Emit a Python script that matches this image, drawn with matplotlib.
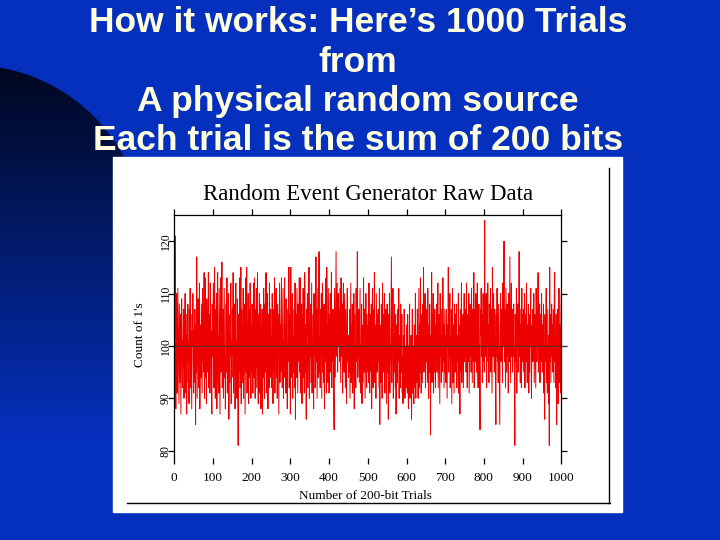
import numpy as np
import matplotlib
matplotlib.use("Agg")
import matplotlib.pyplot as plt
from matplotlib.patches import Rectangle, Circle

# slide text
slide_lines = ["How it works: Here\u2019s 1000 Trials", "from",
               "A physical random source", "Each trial is the sum of 200 bits"]
chart_title = "Random Event Generator Raw Data"
x_label = "Number of 200-bit Trials"
y_label = "Count of 1's"
x_ticks = [0, 100, 200, 300, 400, 500, 600, 700, 800, 900, 1000]
y_ticks = [80, 90, 100, 110, 120]

# count of 1's in each 200-bit trial (25 per row)
counts = [
    104,121,93,88,106,110,91,97,111,103,94,89,108,100,93,106,87,98,109,104,92,101,96,107,90,
    95,104,110,91,98,106,87,102,97,108,93,101,89,107,98,111,92,103,95,88,106,100,110,97,91,
    103,93,107,98,85,104,95,117,90,101,109,97,92,106,112,88,98,104,94,108,100,91,111,97,103,
    95,114,90,104,113,94,102,89,109,98,107,95,114,92,101,106,91,112,97,103,93,87,108,98,105,
    112,92,101,115,95,90,107,97,110,88,104,114,93,102,91,111,98,87,106,113,95,100,116,92,97,
    107,90,102,111,94,98,88,108,101,95,113,91,104,97,110,86,102,93,106,98,112,89,101,94,107,
    98,114,91,102,95,108,88,104,112,93,101,90,109,98,81,106,95,102,113,92,100,115,89,107,97,
    104,93,111,90,101,108,96,87,106,113,95,115,91,102,98,110,89,101,107,94,112,98,90,104,95,
    108,98,91,104,112,94,113,101,90,107,96,111,92,102,114,95,89,106,98,110,91,101,108,88,104,
    97,107,87,102,94,111,98,90,108,100,95,114,91,104,98,110,88,106,97,92,112,101,94,107,98,
    102,92,110,97,89,107,100,95,113,91,104,98,111,94,102,90,108,98,106,87,101,112,93,104,95,
    107,113,97,92,102,111,90,101,94,113,98,104,91,109,100,95,88,107,102,97,115,92,106,98,87,
    115,94,104,98,110,90,102,95,107,100,92,112,86,106,98,94,111,102,91,108,97,101,113,95,113,
    91,102,97,108,89,106,98,111,94,101,91,114,95,104,98,86,107,102,110,92,100,97,115,90,104,
    98,108,93,102,112,91,101,95,106,88,110,98,104,92,100,117,97,107,90,102,111,94,104,118,95,
    102,92,107,98,110,90,101,112,95,104,93,108,88,106,100,97,113,91,115,98,104,93,111,100,91,
    106,98,110,95,102,114,92,104,97,107,100,90,84,111,102,94,108,118,98,106,112,95,104,110,100,
    107,97,111,102,93,113,104,98,108,91,106,112,100,95,110,102,92,107,98,89,104,111,97,101,94,
    102,95,107,90,101,112,93,104,98,108,91,102,95,110,88,106,98,100,92,111,97,104,118,94,102,
    98,107,93,102,111,91,100,97,108,89,104,98,93,113,102,95,107,90,101,110,97,92,106,100,95,
    104,93,112,98,91,106,100,95,108,88,102,111,97,92,107,100,114,93,104,98,90,110,102,95,106,
    97,107,100,92,111,85,104,98,93,108,102,90,112,100,95,106,98,110,91,102,97,107,89,100,108,
    95,102,86,106,98,110,91,100,97,107,117,93,104,98,111,90,102,95,108,100,92,106,87,98,104,
    93,107,100,97,111,90,102,98,92,108,100,95,106,91,98,89,102,93,107,97,90,100,95,92,104,
    97,91,106,93,88,100,95,108,90,98,92,102,86,95,107,91,100,93,89,104,97,92,110,90,98,
    102,93,107,97,90,100,111,92,104,95,113,98,91,106,100,93,108,97,115,95,104,98,110,92,102,
    97,107,100,93,111,98,90,104,95,108,100,83,102,97,114,93,106,98,110,91,100,95,107,102,92,
    104,98,108,95,102,112,92,100,106,97,89,110,98,102,93,107,100,95,113,97,104,92,100,107,95,
    102,93,107,98,90,104,100,115,95,106,98,110,92,102,97,107,89,100,111,93,104,98,91,108,100,
    95,106,98,108,92,100,102,97,110,91,104,98,87,107,100,95,112,93,102,98,106,92,100,110,97,
    104,98,107,95,112,100,92,106,102,97,110,91,100,108,98,104,95,111,102,93,107,100,97,114,92,
    102,107,97,110,100,95,106,112,98,92,104,108,100,95,84,107,102,111,98,106,93,100,110,97,104,
    95,124,102,107,98,110,92,106,100,112,97,104,93,108,102,98,111,95,107,100,91,115,104,98,110,
    100,95,107,102,92,85,106,98,111,97,104,93,108,100,90,85,102,110,97,107,98,104,93,112,100,
    106,120,97,107,100,92,111,102,95,108,98,104,91,110,100,97,117,106,93,102,112,98,107,95,104,
    98,108,100,93,81,106,102,97,111,91,104,100,108,95,102,118,98,107,93,104,100,92,111,97,106,
    100,95,107,98,110,92,102,106,97,112,100,93,104,98,108,91,102,95,106,100,111,97,90,104,98,
    107,97,102,110,93,100,106,98,92,111,102,97,107,100,114,95,104,98,108,93,102,106,97,110,100,
    95,104,98,108,91,100,86,106,97,102,111,93,100,91,107,98,89,102,81,115,97,106,93,100,108,
    98,104,95,107,100,93,110,114,97,102,92,106,85,100,107,97,89,102,111,93,104,98,91,106,110,
]
trials = np.arange(1, len(counts) + 1)

blue = "#0530be"
serif = ["Liberation Serif", "DejaVu Serif"]

fig = plt.figure(figsize=(7.2, 5.4), dpi=100)

# slide background, pixel coordinates
bg = fig.add_axes([0, 0, 1, 1])
bg.set_xlim(0, 720)
bg.set_ylim(540, 0)
bg.axis("off")
bg.add_patch(Rectangle((0, 0), 720, 540, color=blue, zorder=0))
grad = np.linspace(0, 540, 540)
grad = np.clip((grad - 70) / 370, 0, 1)
dark = np.array([0.0, 0.03, 0.13])
light = np.array([0.02, 0.19, 0.745])
img = dark + (light - dark) * grad[:, None, None]
# dark rounded shape on the left: circle on top, straight strip below
for clip in [Circle((-30, 240), 175), Rectangle((0, 150), 115, 390)]:
    im = bg.imshow(img, extent=[0, 720, 540, 0], aspect="auto", zorder=1)
    clip.set_transform(bg.transData)
    im.set_clip_path(clip)

# white chart panel with its inner frame lines
bg.add_patch(Rectangle((113, 157), 509, 355, color="white", zorder=2))
bg.plot([127, 610], [503, 503], color="black", lw=1, zorder=3)
bg.plot([609, 609], [168, 503], color="black", lw=1, zorder=3)

ys = [22, 62, 101, 140]
for line, y in zip(slide_lines, ys):
    bg.text(358, y, line, ha="center", va="center", color="#ffffe0",
            fontsize=25.5, fontweight="bold", family="Liberation Sans", zorder=4)

bg.text(368, 195, chart_title, ha="center", va="center", fontsize=16.5,
        family=serif, color="black", zorder=4)

# main plot
ax = fig.add_axes([174.3 / 720, (540 - 458) / 540, 387 / 720, 243 / 540])
ax.set_facecolor("none")
ax.plot(trials, counts, color="#ee0000", lw=0.7)
ax.plot([0, 1013], [100, 100], color="#5a2a2a", lw=0.8, clip_on=False)
ax.set_xlim(0, 1000)
ax.set_ylim(78.6, 125)
ax.spines["bottom"].set_visible(False)
for s in ["top", "left", "right"]:
    ax.spines[s].set_linewidth(0.9)
ax.set_xticks(x_ticks)
ax.set_yticks(y_ticks)
ax.set_xticklabels([str(v) for v in x_ticks], family=serif, fontsize=9.5)
ax.set_yticklabels([str(v) for v in y_ticks], family=serif, fontsize=8.5,
                   rotation=90, va="center")
ax.tick_params(axis="x", top=True, direction="out", length=4, width=0.9, pad=6)
ax.tick_params(axis="y", right=True, direction="out", length=4, width=0.9, pad=-2)
ax.set_xlabel(x_label, family=serif, fontsize=9.5)
ax.xaxis.set_label_coords(0.493, -0.132)
ax.set_ylabel(y_label, family=serif, fontsize=9.5)
ax.yaxis.set_label_coords(-0.073, 0.506)

fig.savefig("out.png", dpi=100, facecolor=blue)
